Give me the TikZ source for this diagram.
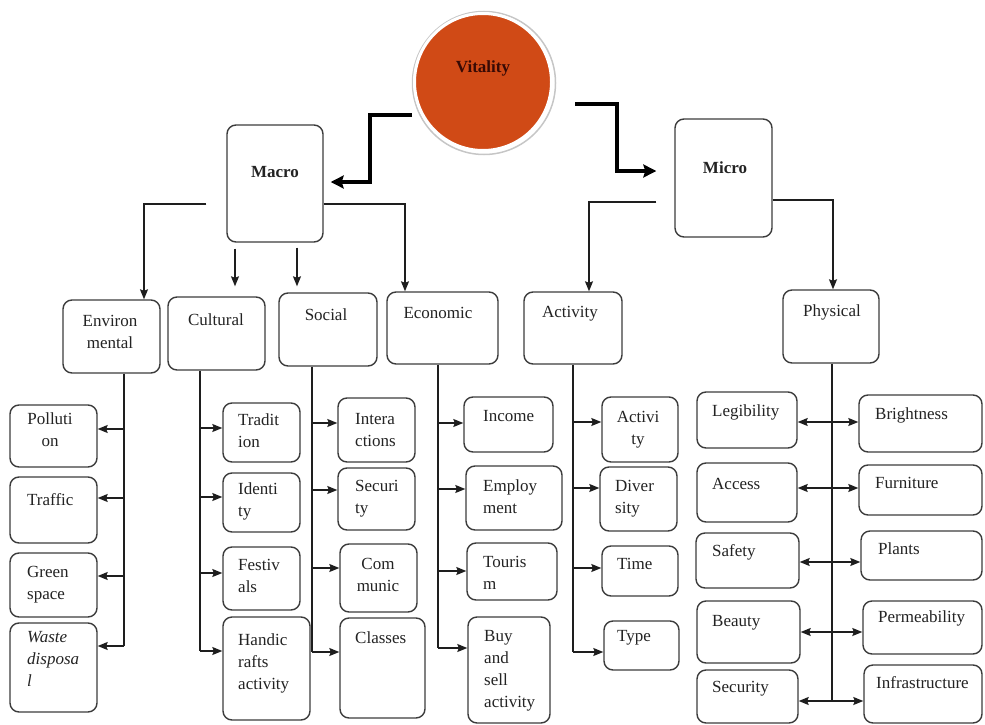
\documentclass[tikz,border=0pt]{standalone}
\usepackage{fontspec}
\setmainfont{Liberation Serif}
\usetikzlibrary{arrows.meta}
\begin{document}
\begin{tikzpicture}[x=1pt,y=-1pt,
	box/.style={draw=boxcol, line width=1.4pt, rounded corners=9pt, inner sep=0, fill=white},
	lbl/.style={inner sep=0, align=left, text=txtcol, font=\fontsize{17pt}{22pt}\selectfont},
	head/.style={lbl, font=\fontsize{17pt}{22pt}\selectfont\bfseries},
	link/.style={draw=linecol, line width=1.3pt},
	arr/.style={link, -{Stealth[length=10pt,width=8pt,inset=1.5pt]}},
	twoway/.style={link, {Stealth[length=10pt,width=8pt,inset=1.5pt]}-{Stealth[length=10pt,width=8pt,inset=1.5pt]}},
	bigarr/.style={draw=black, line width=3.2pt, -{Stealth[length=13pt,width=13pt,inset=2pt]}}]
	\definecolor{boxcol}{RGB}{60, 60, 60}
	\definecolor{linecol}{RGB}{30, 30, 30}
	\definecolor{txtcol}{RGB}{35, 35, 35}
	\definecolor{vitred}{RGB}{208, 74, 22}
	\definecolor{vittxt}{RGB}{55, 10, 5}
	\useasboundingbox (0,0) rectangle (985,725);
	% top level
	\draw[gray!45, line width=1.5pt] (484,83) circle (71.5);
	\node[circle, fill=vitred, draw=white, line width=3pt, minimum size=137pt, inner sep=0] (vit) at (483,82) {};
	\node[head, text=vittxt] (vitt) at (483,68) {Vitality};
	\node[box, minimum width=96pt, minimum height=117pt] (macro) at (275,183.5) {};
	\node[head] (macrot) at (275,172) {Macro};
	\node[box, minimum width=97pt, minimum height=118pt] (micro) at (723.5,178) {};
	\node[head] (microt) at (725,168) {Micro};
	\coordinate (vitL) at (412,115);
	\coordinate (macroK) at (370,182);
	\coordinate (vitR) at (575,104);
	\coordinate (microK) at (617,171);
	\draw[bigarr] (vitL) -| (macroK) -- ([xshift=7pt]macroK -| macro.east);
	\draw[bigarr] (vitR) -| (microK) -- ([xshift=-18pt]microK -| micro.west);
	% second level
	\node[box, minimum width=97pt, minimum height=73pt] (env) at (111.5,336.5) {};
	\node[lbl, align=center] (envt) at (110,332) {Environ\\mental};
	\node[box, minimum width=97pt, minimum height=73pt] (cul) at (216.5,333.5) {};
	\node[lbl] (cult) at (216,320) {Cultural};
	\node[box, minimum width=98pt, minimum height=73pt] (soc) at (328,329.5) {};
	\node[lbl] (soct) at (326,315) {Social};
	\node[box, minimum width=111pt, minimum height=72pt] (eco) at (442.5,328) {};
	\node[lbl] (ecot) at (438,313) {Economic};
	\node[box, minimum width=98pt, minimum height=72pt] (act) at (573,328) {};
	\node[lbl] (actt) at (570,314) {Activity};
	\node[box, minimum width=96pt, minimum height=73pt] (phy) at (831,326.5) {};
	\node[lbl] (phyt) at (832,312) {Physical};
	\draw[arr, shorten <=20pt] (macro.west |- 0,204) -| ([xshift=32.5pt]env.north);
	\draw[arr, shorten <=6pt, shorten >=10pt] (macro.south -| 235,0) -- (cul.north -| 235,0);
	\draw[arr, shorten <=5pt, shorten >=6pt] (macro.south -| 297,0) -- (soc.north -| 297,0);
	\draw[arr] (macro.east |- 0,204) -| (eco.north -| 405,0);
	\draw[arr, shorten <=18pt] (micro.west |- 0,202) -| (act.north -| 589,0);
	\draw[arr] (micro.east |- 0,200) -| (phy.north -| 833,0);
	% environmental
	\node[box, minimum width=87pt, minimum height=62pt] (pol) at (53.5,436) {};
	\node[lbl, align=center] (polt) at (50,429.5) {Polluti\\on};
	\node[box, minimum width=87pt, minimum height=66pt] (trf) at (53.5,510) {};
	\node[lbl, anchor=west] (trft) at (27,500) {Traffic};
	\node[box, minimum width=87pt, minimum height=64pt] (grn) at (53.5,585) {};
	\node[lbl, anchor=west] (grnt) at (27,585) {Green\\space};
	\node[box, minimum width=87pt, minimum height=89pt] (wst) at (53.5,667.5) {};
	\node[lbl, anchor=west, font=\fontsize{17pt}{22pt}\selectfont\itshape] (wstt) at (27,659) {Waste\\disposa\\l};
	\coordinate (envA) at (124,429);
	\coordinate (envB) at (124,498);
	\coordinate (envC) at (124,576);
	\coordinate (envD) at (124,646);
	\draw[link] (env.south -| envA) -- (envD);
	\draw[arr] (envA) -- (envA -| pol.east);
	\draw[arr] (envB) -- (envB -| trf.east);
	\draw[arr] (envC) -- (envC -| grn.east);
	\draw[arr] (envD) -- (envD -| wst.east);
	% cultural
	\node[box, minimum width=77pt, minimum height=59pt] (trd) at (261.5,432.5) {};
	\node[lbl, anchor=west] (trdt) at (238,431) {Tradit\\ion};
	\node[box, minimum width=77pt, minimum height=59pt] (idn) at (261.5,502.5) {};
	\node[lbl, anchor=west] (idnt) at (238,501) {Identi\\ty};
	\node[box, minimum width=77pt, minimum height=63pt] (fst) at (261.5,578.5) {};
	\node[lbl, anchor=west] (fstt) at (238,576) {Festiv\\als};
	\node[box, minimum width=87pt, minimum height=103pt] (hnd) at (266.5,668.5) {};
	\node[lbl, anchor=west] (hndt) at (238,663) {Handic\\rafts\\activity};
	\coordinate (culA) at (200,428);
	\coordinate (culB) at (200,497);
	\coordinate (culC) at (200,573);
	\coordinate (culD) at (200,651);
	\draw[link] (cul.south -| culA) -- (culD);
	\draw[arr] (culA) -- (culA -| trd.west);
	\draw[arr] (culB) -- (culB -| idn.west);
	\draw[arr] (culC) -- (culC -| fst.west);
	\draw[arr] (culD) -- (culD -| hnd.west);
	% social
	\node[box, minimum width=77pt, minimum height=64pt] (inr) at (376.5,430) {};
	\node[lbl, anchor=west] (inrt) at (355,430) {Intera\\ctions};
	\node[box, minimum width=77pt, minimum height=62pt] (scr) at (376.5,499) {};
	\node[lbl, anchor=west] (scrt) at (355,499) {Securi\\ty};
	\node[box, minimum width=77pt, minimum height=68pt] (cmm) at (378.5,578) {};
	\node[lbl, align=center] (cmmt) at (378,575) {Com\\munic};
	\node[box, minimum width=85pt, minimum height=100pt] (cls) at (382.5,668) {};
	\node[lbl, anchor=west] (clst) at (355,638) {Classes};
	\coordinate (socA) at (312,423);
	\coordinate (socB) at (312,490);
	\coordinate (socC) at (312,568);
	\coordinate (socD) at (312,652);
	\draw[link] (soc.south -| socA) -- (socD);
	\draw[arr] (socA) -- (socA -| inr.west);
	\draw[arr] (socB) -- (socB -| scr.west);
	\draw[arr] (socC) -- (socC -| cmm.west);
	\draw[arr] (socD) -- (socD -| cls.west);
	% economic
	\node[box, minimum width=89pt, minimum height=55pt] (inc) at (508.5,424.5) {};
	\node[lbl, anchor=west] (inct) at (483,416) {Income};
	\node[box, minimum width=96pt, minimum height=64pt] (emp) at (514,498) {};
	\node[lbl, anchor=west] (empt) at (483,497) {Employ\\ment};
	\node[box, minimum width=90pt, minimum height=57pt] (tou) at (512,571.5) {};
	\node[lbl, anchor=west] (tout) at (483,573) {Touris\\m};
	\node[box, minimum width=82pt, minimum height=106pt] (buy) at (509,670) {};
	\node[lbl, anchor=west] (buyt) at (484,671) {Buy\\and\\sell\\activity};
	\coordinate (ecoA) at (438,423);
	\coordinate (ecoB) at (438,489);
	\coordinate (ecoC) at (438,571);
	\coordinate (ecoD) at (438,648);
	\draw[link] (eco.south -| ecoA) -- (ecoD);
	\draw[arr] (ecoA) -- (ecoA -| inc.west);
	\draw[arr] (ecoB) -- (ecoB -| emp.west);
	\draw[arr] (ecoC) -- (ecoC -| tou.west);
	\draw[arr] (ecoD) -- (ecoD -| buy.west);
	% activity
	\node[box, minimum width=76pt, minimum height=65pt] (acv) at (640,429.5) {};
	\node[lbl, align=center] (acvt) at (638,430) {Activi\\ty};
	\node[box, minimum width=77pt, minimum height=64pt] (dvr) at (638.5,499) {};
	\node[lbl, anchor=west] (dvrt) at (615,499) {Diver\\sity};
	\node[box, minimum width=76pt, minimum height=50pt] (tim) at (640,571) {};
	\node[lbl, anchor=west] (timt) at (617,564) {Time};
	\node[box, minimum width=75pt, minimum height=49pt] (typ) at (641.5,645.5) {};
	\node[lbl, anchor=west] (typt) at (617,638) {Type};
	\coordinate (actA) at (573,422);
	\coordinate (actB) at (573,488);
	\coordinate (actC) at (573,568);
	\coordinate (actD) at (573,652);
	\draw[link] (act.south -| actA) -- (actD);
	\draw[arr] (actA) -- (actA -| acv.west);
	\draw[arr] (actB) -- (actB -| dvr.west);
	\draw[arr] (actC) -- (actC -| tim.west);
	\draw[arr] (actD) -- (actD -| typ.west);
	% physical
	\node[box, minimum width=100pt, minimum height=56pt] (leg) at (747,420) {};
	\node[lbl, anchor=west] (legt) at (712,412) {Legibility};
	\node[box, minimum width=100pt, minimum height=59pt] (acc) at (747,492.5) {};
	\node[lbl, anchor=west] (acct) at (712,484) {Access};
	\node[box, minimum width=103pt, minimum height=55pt] (saf) at (747.5,560.5) {};
	\node[lbl, anchor=west] (saft) at (712,552) {Safety};
	\node[box, minimum width=103pt, minimum height=62pt] (bea) at (748.5,632) {};
	\node[lbl, anchor=west] (beat) at (712,623) {Beauty};
	\node[box, minimum width=101pt, minimum height=53pt] (sec) at (747.5,696.5) {};
	\node[lbl, anchor=west] (sect) at (712,689) {Security};
	\node[box, minimum width=123pt, minimum height=57pt] (bri) at (920.5,423.5) {};
	\node[lbl, anchor=west] (brit) at (875,415) {Brightness};
	\node[box, minimum width=123pt, minimum height=50pt] (fur) at (920.5,490) {};
	\node[lbl, anchor=west] (furt) at (875,483) {Furniture};
	\node[box, minimum width=121pt, minimum height=49pt] (pla) at (921.5,555.5) {};
	\node[lbl, anchor=west] (plat) at (878,549) {Plants};
	\node[box, minimum width=119pt, minimum height=53pt] (per) at (922.5,627.5) {};
	\node[lbl, anchor=west] (pert) at (878,618) {Permeability};
	\node[box, minimum width=118pt, minimum height=58pt] (inf) at (923,694) {};
	\node[lbl, anchor=west] (inft) at (876,683) {Infrastructure};
	\coordinate (phyA) at (832,422);
	\coordinate (phyB) at (832,488);
	\coordinate (phyC) at (832,562);
	\coordinate (phyD) at (832,632);
	\coordinate (phyE) at (832,701);
	\draw[link] (phy.south -| phyA) -- (phyE);
	\draw[twoway] (phyA -| leg.east) -- (phyA -| bri.west);
	\draw[twoway] (phyB -| acc.east) -- (phyB -| fur.west);
	\draw[twoway] (phyC -| saf.east) -- (phyC -| pla.west);
	\draw[twoway] (phyD -| bea.east) -- (phyD -| per.west);
	\draw[twoway] (phyE -| sec.east) -- (phyE -| inf.west);
\end{tikzpicture}
\end{document}
